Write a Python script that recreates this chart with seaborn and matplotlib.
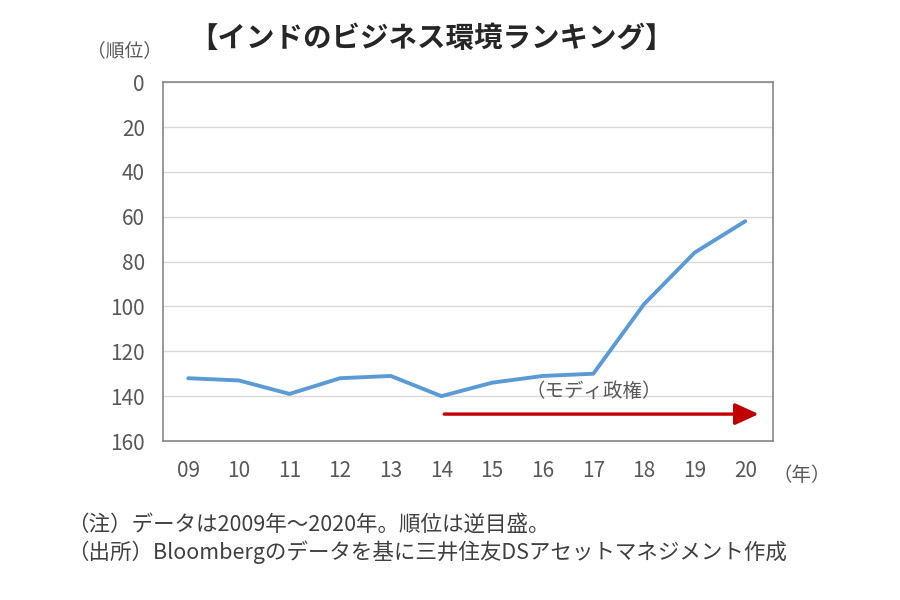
import matplotlib
matplotlib.use("Agg")
import matplotlib.pyplot as plt
import seaborn as sns
import pandas as pd

# data (rank, lower is better)
years = ["09", "10", "11", "12", "13", "14", "15", "16", "17", "18", "19", "20"]
rank = [132, 133, 139, 132, 131, 140, 134, 131, 130, 99, 76, 62]
y_ticks = [0, 20, 40, 60, 80, 100, 120, 140, 160]

title = "【インドのビジネス環境ランキング】"
note1 = "（注）データは2009年～2020年。順位は逆目盛。"
note2 = "（出所）Bloombergのデータを基に三井住友DSアセットマネジメント作成"
modi_label = "（モディ政権）"

sns.set_theme(style="white")
plt.rcParams['font.family'] = ['Noto Sans CJK JP', 'DejaVu Sans']

df = pd.DataFrame({"year": years, "rank": rank})

fig = plt.figure(figsize=(9, 6), dpi=100)
ax = fig.add_axes([0.181, 0.265, 0.678, 0.598])

sns.lineplot(data=df, x="year", y="rank", ax=ax, color="#5B9BD5", linewidth=2.8, sort=False)

ax.set_ylim(160, 0)
ax.set_yticks(y_ticks)
ax.set_xlim(-0.5, len(years) - 0.45)
ax.yaxis.grid(True, color="#D9D9D9", linewidth=1)
ax.set_axisbelow(True)
for s in ax.spines.values():
    s.set_color("#868686")
    s.set_linewidth(1.2)
ax.tick_params(axis="both", colors="#595959", labelsize=15, length=0)
ax.tick_params(axis="y", pad=13)
ax.tick_params(axis="x", pad=14)
ax.set_xlabel("")
ax.set_ylabel("")

# Modi administration arrow
start = years.index("14")
ax.annotate("", xy=(len(years) - 0.68, 148), xytext=(start, 148),
            arrowprops=dict(arrowstyle="-|>,head_length=1.2,head_width=0.55",
                            color="#C00000", lw=2.4), annotation_clip=False)
ax.text(8.0, 142.5, modi_label, ha="center", va="bottom", fontsize=14, color="#595959")

fig.text(0.48, 0.935, title, ha="center", va="center", fontsize=20.5, fontweight="bold", color="#262626")
fig.text(0.097, 0.915, "（順位）", ha="left", va="center", fontsize=13.5, color="#595959")
fig.text(0.858, 0.207, "（年）", ha="left", va="center", fontsize=14, color="#595959")
fig.text(0.075, 0.125, note1, ha="left", va="center", fontsize=15.5, color="#404040")
fig.text(0.075, 0.08, note2, ha="left", va="center", fontsize=15.5, color="#404040")

fig.savefig("out.png", dpi=100, facecolor="white")
